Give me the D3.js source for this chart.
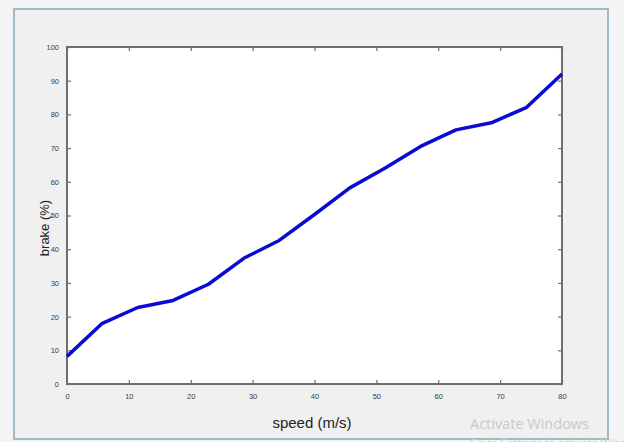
<!DOCTYPE html>
<html>
<head>
<meta charset="utf-8">
<script src="https://cdn.jsdelivr.net/npm/d3@7"></script>
<style>
  body { margin: 0; background: #f4f4f4; }
  svg { display: block; }
</style>
</head>
<body>
<svg width="624" height="442"></svg>
<script>
// data
const speed = [0, 5.71, 11.43, 17.14, 22.86, 28.57, 34.29, 40, 45.71, 51.43, 57.14, 62.86, 68.57, 74.29, 80];
const brake = [8.2, 18.0, 22.7, 24.8, 29.6, 37.3, 42.6, 50.3, 58.2, 64.1, 70.5, 75.4, 77.5, 82.1, 92.0];
const xTicks = [0, 10, 20, 30, 40, 50, 60, 70, 80];
const yTicks = [0, 10, 20, 30, 40, 50, 60, 70, 80, 90, 100];

const svg = d3.select("svg");

// window frame
svg.append("rect")
  .attr("x", 14).attr("y", 9).attr("width", 594).attr("height", 430)
  .attr("fill", "#f0f0f0").attr("stroke", "#a3b9c6").attr("stroke-width", 2);

// plot box
const box = { left: 67, right: 562, top: 47, bottom: 384 };
const x = d3.scaleLinear().domain([0, 80]).range([box.left, box.right]);
const y = d3.scaleLinear().domain([0, 100]).range([box.bottom, box.top]);

svg.append("rect")
  .attr("x", box.left).attr("y", box.top)
  .attr("width", box.right - box.left).attr("height", box.bottom - box.top)
  .attr("fill", "#fff");

const axisColor = "#6e6e6e";

function styleAxis(g, hideText) {
  g.select(".domain").remove();
  g.selectAll(".tick line").attr("stroke", axisColor).attr("stroke-width", 1.2);
  g.selectAll(".tick text")
    .attr("fill", "#3c3c3c")
    .attr("font-family", "Arial, 'Liberation Sans', sans-serif")
    .attr("font-size", "7.5px");
  if (hideText) g.selectAll(".tick text").remove();
}

// ticks pointing inward, MATLAB style
svg.append("g").attr("transform", `translate(0,${box.bottom})`)
  .call(d3.axisBottom(x).tickValues(xTicks).tickSize(-4).tickPadding(10))
  .call(g => styleAxis(g, false));
svg.append("g").attr("transform", `translate(0,${box.top})`)
  .call(d3.axisTop(x).tickValues(xTicks).tickSize(-4))
  .call(g => styleAxis(g, true));
svg.append("g").attr("transform", `translate(${box.left},0)`)
  .call(d3.axisLeft(y).tickValues(yTicks).tickSize(-4).tickPadding(8))
  .call(g => styleAxis(g, false));
svg.append("g").attr("transform", `translate(${box.right},0)`)
  .call(d3.axisRight(y).tickValues(yTicks).tickSize(-4))
  .call(g => styleAxis(g, true));

// box outline
svg.append("rect")
  .attr("x", box.left).attr("y", box.top)
  .attr("width", box.right - box.left).attr("height", box.bottom - box.top)
  .attr("fill", "none").attr("stroke", axisColor).attr("stroke-width", 2);

// the line
const pts = speed.map((s, i) => ({ s, b: brake[i] }));
const line = d3.line().x(d => x(d.s)).y(d => y(d.b));
svg.append("path")
  .datum(pts)
  .attr("fill", "none")
  .attr("stroke", "#0a0ad2")
  .attr("stroke-width", 3.5)
  .attr("stroke-linejoin", "round")
  .attr("d", line);

// axis labels
svg.append("text")
  .attr("x", 312).attr("y", 428)
  .attr("text-anchor", "middle")
  .attr("font-family", "Arial, 'Liberation Sans', sans-serif")
  .attr("font-size", "15px")
  .attr("fill", "#222")
  .text("speed (m/s)");

svg.append("text")
  .attr("transform", "translate(49,228) rotate(-90)")
  .attr("text-anchor", "middle")
  .attr("font-family", "Arial, 'Liberation Sans', sans-serif")
  .attr("font-size", "13px")
  .attr("fill", "#222")
  .text("brake (%)");

// watermark
svg.append("text")
  .attr("x", 470).attr("y", 429)
  .attr("font-family", "'Open Sans', 'Noto Sans', sans-serif")
  .attr("font-size", "14.5px")
  .attr("fill", "#c8c8c8")
  .text("Activate Windows");
svg.append("text")
  .attr("x", 470).attr("y", 447)
  .attr("font-family", "'Open Sans', 'Noto Sans', sans-serif")
  .attr("font-size", "11px")
  .attr("fill", "#d0d0d0")
  .text("Go to Settings to activate Windows.");
</script>
</body>
</html>
